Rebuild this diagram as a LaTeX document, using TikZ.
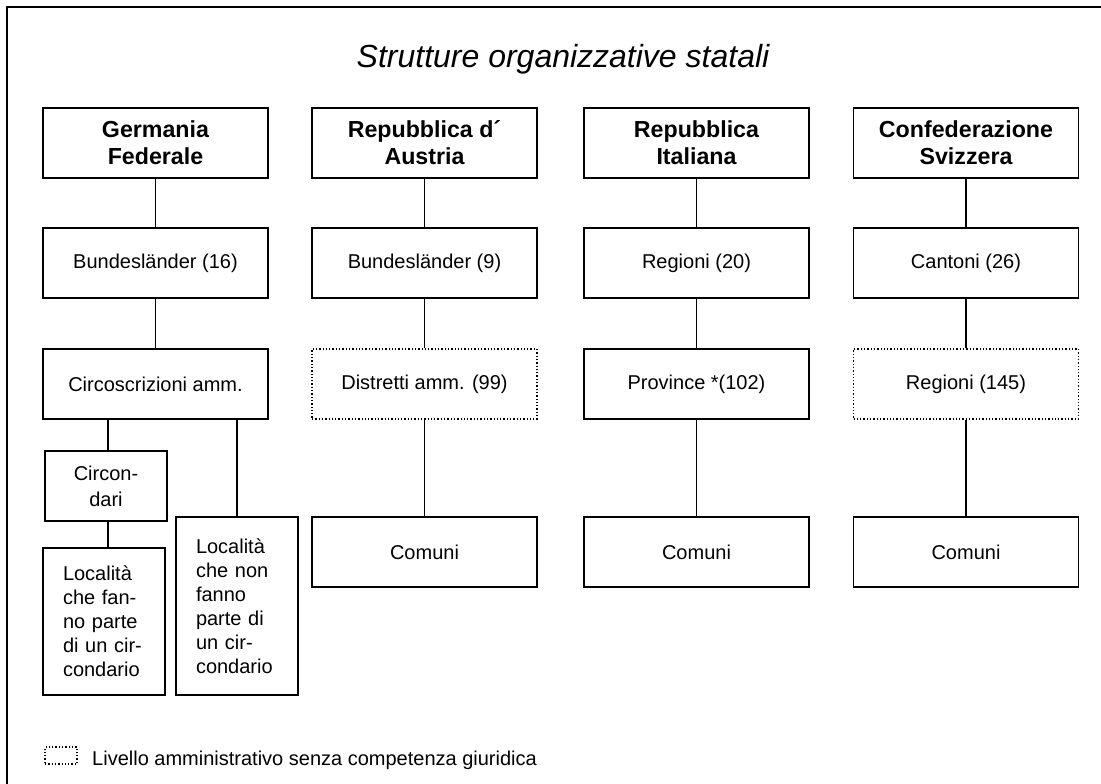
\documentclass[tikz,border=0pt]{standalone}
\usepackage{fontspec}
\setmainfont{Liberation Sans}
\usetikzlibrary{positioning}
\usetikzlibrary{shapes}
\tikzset{
        box/.style={align=center, inner sep=0pt, draw=black, line width=1.3pt, font=\fontsize{20}{24}\selectfont},
        % State nodes
        node_state/.style={box, minimum width=225pt, minimum height=70pt, font=\fontsize{23.2}{27}\selectfont\bfseries},
        % Levels with legal competence
        node_level/.style={box, minimum width=225pt, minimum height=70pt},
        % Levels without legal competence
        node_admin/.style={node_level, dotted},
        % Narrow nodes
        node_narrow/.style={box, align=left, inner xsep=20pt, text width=82pt},
        link/.style={line width=1.3pt}
}

\begin{document}
\begin{tikzpicture}[x=1pt, y=-1pt]
            \useasboundingbox (0,0) rectangle (1101,784);
            \draw[line width=1.8pt] (7,784) -- (7,7) -- (1101,7);
            \node[anchor=base, font=\fontsize{32}{38}\selectfont\itshape] (title) at (563,68) {Strutture organizzative statali};
            % Germania
            \node[node_state] (de) at (155.5,143) {Germania\\Federale};
            \node[node_level] (de_land) at (155.5,263) {Bundesländer (16)};
            \node[node_level] (de_circ) at (155.5,384) {Circoscrizioni amm.};
            \node[node_level, minimum width=122pt, font=\fontsize{20}{26}\selectfont] (de_circon) at (106,486) {Circon-\\dari};
            \node[node_narrow, minimum height=147pt] (de_loc_in) at (104,621.5) {Località\\che fan-\\no parte\\di un cir-\\condario};
            \node[node_narrow, minimum height=178pt] (de_loc_out) at (237,606) {Località\\che non\\fanno\\parte di\\un cir-\\condario};
            % Austria
            \node[node_state] (at) at (424.5,143) {Repubblica d´\\Austria};
            \node[node_level] (at_land) at (424.5,263) {Bundesländer (9)};
            \node[node_admin] (at_distr) at (424.5,384) {Distretti amm. (99)};
            \node[node_level] (at_com) at (424.5,552) {Comuni};
            % Italia
            \node[node_state] (it) at (696.5,143) {Repubblica\\Italiana};
            \node[node_level] (it_reg) at (696.5,263) {Regioni (20)};
            \node[node_level] (it_prov) at (696.5,384) {Province *(102)};
            \node[node_level] (it_com) at (696.5,552) {Comuni};
            % Svizzera
            \node[node_state] (ch) at (966,143) {Confederazione\\Svizzera};
            \node[node_level] (ch_cant) at (966,263) {Cantoni (26)};
            \node[node_admin] (ch_reg) at (966,384) {Regioni (145)};
            \node[node_level] (ch_com) at (966,552) {Comuni};
            % Legend
            \node[draw, dotted, line width=1.3pt, minimum width=32pt, minimum height=17pt, inner sep=0pt] (key) at (61,755.5) {};
            \node[anchor=base west, inner sep=0pt, font=\fontsize{20}{24}\selectfont] (key_text) at (92,765) {Livello amministrativo senza competenza giuridica};

            \draw[link] (de) -- (de_land);
            \draw[link] (de_land) -- (de_circ);
            \draw[link] ([xshift=2pt]de_circon.north) -- ([xshift=2pt]de_circon.north |- de_circ.south);
            \draw[link] ([xshift=2pt]de_circon.south) -- ([xshift=2pt]de_circon.south |- de_loc_in.north);
            \draw[link] (de_loc_out.north) -- (de_loc_out.north |- de_circ.south);
            \draw[link] (at) -- (at_land);
            \draw[link] (at_land) -- (at_distr);
            \draw[link] (at_distr) -- (at_com);
            \draw[link] (it) -- (it_reg);
            \draw[link] (it_reg) -- (it_prov);
            \draw[link] (it_prov) -- (it_com);
            \draw[link] (ch) -- (ch_cant);
            \draw[link] (ch_cant) -- (ch_reg);
            \draw[link] (ch_reg) -- (ch_com);
        \end{tikzpicture}
\end{document}
